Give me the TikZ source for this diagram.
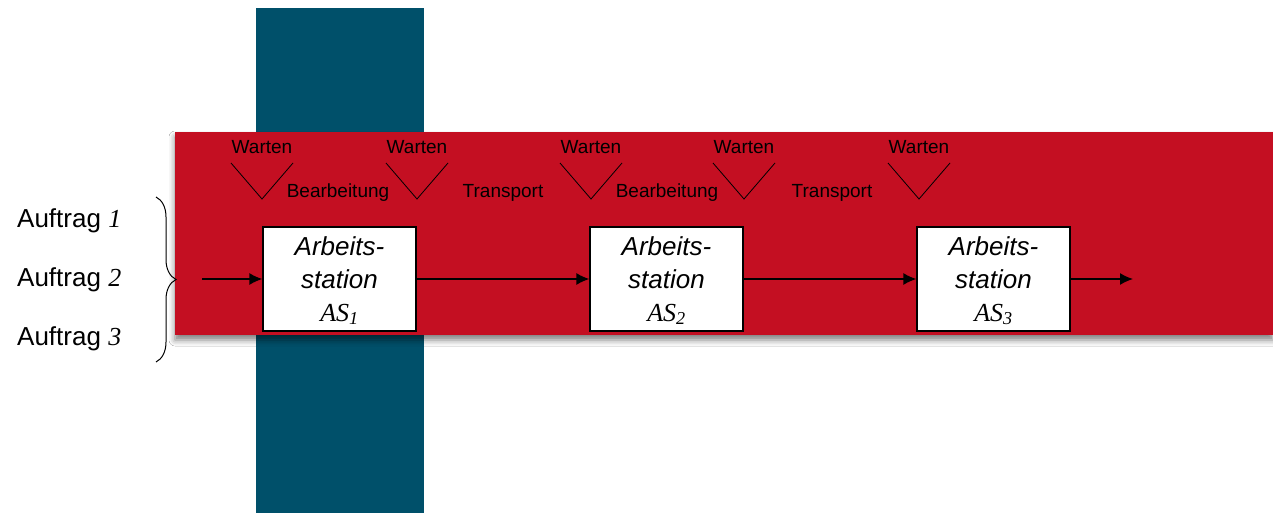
\documentclass[tikz,border=0pt]{standalone}
\usepackage{fontspec}
\setmainfont{Liberation Sans}
\newfontfamily\tms{Liberation Serif}
\usetikzlibrary{arrows.meta,shadows.blur,decorations.pathreplacing}
\definecolor{redbg}{HTML}{C40F22}
\definecolor{bluebg}{HTML}{00506A}
\tikzset{
  stationbox/.style={draw=black, line width=1.3pt, fill=white, minimum width=153pt, minimum height=104pt, inner sep=0pt, align=center, font=\fontsize{26}{33}\selectfont\itshape},
  flow/.style={line width=1.4pt, -{Latex[length=13pt,width=12pt,fill=black]}},
  vmark/.style={line width=0.8pt},
  smalltxt/.style={font=\fontsize{19}{20}\selectfont, anchor=base, inner sep=0pt},
  auftrag/.style={font=\fontsize{26}{28}\selectfont, anchor=base west, inner sep=0pt}
}
\begin{document}
\begin{tikzpicture}[x=1pt,y=-1pt]
\useasboundingbox (0,0) rectangle (1273,513);
\fill[white] (0,0) rectangle (1273,513);
% blue column
\fill[bluebg] (256,8) rectangle (424,513);
% red band with shadow
\fill[redbg, blur shadow={shadow xshift=0pt, shadow yshift=-5pt, shadow blur radius=6pt, shadow opacity=50}] (175,132) rectangle (1273,335);
% V marks and labels
\foreach \cx in {262,417,591,744,919}{
  \draw[vmark] (\cx-31,163) -- (\cx,199) -- (\cx+31,163);
  \node[smalltxt] at (\cx,154) {Warten};
}
\node[smalltxt] (b1) at (338,197) {Bearbeitung};
\node[smalltxt] (t1) at (503,197) {Transport};
\node[smalltxt] (b2) at (667,197) {Bearbeitung};
\node[smalltxt] (t2) at (832,197) {Transport};
% stations
\node[stationbox] (as1) at (339.5,279) {\rule{0pt}{22pt}Arbeits-\\station\\{\tms AS\textsubscript{1}}};
\node[stationbox] (as2) at (666.5,279) {\rule{0pt}{22pt}Arbeits-\\station\\{\tms AS\textsubscript{2}}};
\node[stationbox] (as3) at (993.5,279) {\rule{0pt}{22pt}Arbeits-\\station\\{\tms AS\textsubscript{3}}};
\coordinate (in) at (202,279);
\coordinate (out) at (1133,279);
\draw[flow] (in) -- (as1.west);
\draw[flow] (as1.east) -- (as2.west);
\draw[flow] (as2.east) -- (as3.west);
\draw[flow] (as3.east) -- (out);
% orders
\node[auftrag] (a1) at (17,227) {Auftrag {\tms\itshape 1}};
\node[auftrag] (a2) at (17,286) {Auftrag {\tms\itshape 2}};
\node[auftrag] (a3) at (17,345) {Auftrag {\tms\itshape 3}};
\draw[line width=1pt, decorate, decoration={brace, amplitude=20pt}] (156,197) -- (156,362);
\end{tikzpicture}
\end{document}
